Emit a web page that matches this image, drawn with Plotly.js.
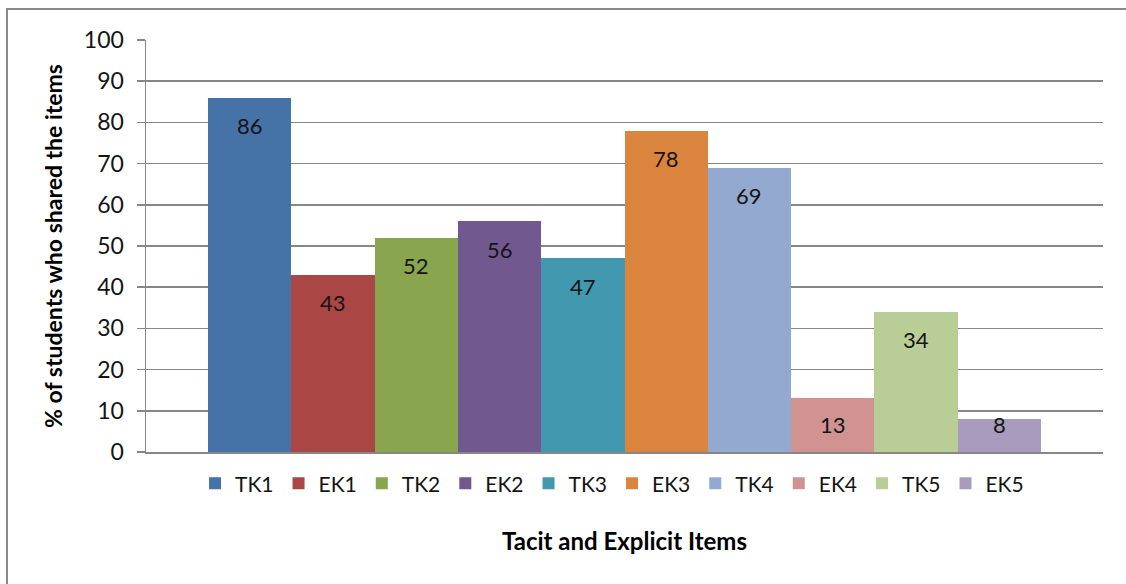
<!DOCTYPE html>
<html>
<head>
<meta charset="utf-8">
<script src="https://cdn.plot.ly/plotly-3.0.1.min.js"></script>
<style>
  html, body { margin: 0; padding: 0; background: #ffffff; }
  #wrap { position: relative; width: 1126px; height: 584px; overflow: hidden; }
  #chart { position: absolute; left: 0; top: 0; width: 1126px; height: 584px; }
  #frame { position: absolute; left: 6px; top: 8px; width: 1200px; height: 700px;
           border-left: 2px solid #898989; border-top: 2px solid #898989; pointer-events: none; }
</style>
</head>
<body>
<div id="wrap">
  <div id="chart"></div>
  <div id="frame"></div>
</div>
<script>
// Share of students who shared each tacit (TK) and explicit (EK) knowledge item
const items = ['TK1', 'EK1', 'TK2', 'EK2', 'TK3', 'EK3', 'TK4', 'EK4', 'TK5', 'EK5'];
const shares = [86, 43, 52, 56, 47, 78, 69, 13, 34, 8];
const colors = ['#4572A7', '#AA4643', '#89A54E', '#71588F', '#4198AF',
                '#DB843D', '#93A9CF', '#D19392', '#B9CD96', '#A99BBD'];
const yTicks = [0, 10, 20, 30, 40, 50, 60, 70, 80, 90, 100];

const FONT = 'Lato, "Open Sans", sans-serif';
const TEXT = '#141414';

const W = 1126, H = 584;
const margin = { l: 146, r: 23, t: 40, b: 132 };
const plotH = H - margin.t - margin.b;
const yMax = 100;
const pxPerUnit = plotH / yMax;

// one trace per item so each gets its own legend entry
const traces = items.map((name, i) => ({
  type: 'bar',
  name: name,
  x: [name],
  y: [shares[i]],
  marker: { color: colors[i], line: { width: 0 } },
  hoverinfo: 'x+y'
}));

// value labels sit inside the top of each bar
const labelOffset = 28;
const annotations = items.map((name, i) => {
  const barPx = shares[i] * pxPerUnit;
  const shift = Math.min(labelOffset, barPx - 28);
  return {
    x: name, y: shares[i], xref: 'x', yref: 'y',
    text: String(shares[i]), showarrow: false,
    yanchor: 'middle', xanchor: 'center', yshift: -shift,
    font: { family: FONT, size: 22, color: TEXT }
  };
});

const layout = {
  width: W, height: H,
  margin: margin,
  paper_bgcolor: '#ffffff', plot_bgcolor: '#ffffff',
  barmode: 'overlay', bargap: 0,
  showlegend: true,
  legend: {
    orientation: 'h', x: 0.487, xanchor: 'center', y: -0.077, yanchor: 'middle',
    font: { family: FONT, size: 21, color: TEXT },
    traceorder: 'normal', itemclick: false, itemdoubleclick: false
  },
  xaxis: {
    type: 'category',
    categoryorder: 'array', categoryarray: items,
    range: [-1.245, items.length - 1 + 1.245],
    showticklabels: false, ticks: '',
    showgrid: false, zeroline: false,
    showline: true, linecolor: '#878787', linewidth: 1.5,
    fixedrange: true,
    title: { text: '<b>Tacit and Explicit Items</b>', standoff: 80,
             font: { family: FONT, size: 24, color: '#000' } }
  },
  yaxis: {
    range: [0, yMax], tickvals: yTicks, ticktext: yTicks.map(String),
    ticks: 'outside', ticklen: 8, tickcolor: '#878787', tickwidth: 1.5,
    ticklabelstandoff: 8,
    tickfont: { family: FONT, size: 23, color: TEXT },
    showgrid: true, gridcolor: '#878787', gridwidth: 1.5,
    zeroline: false, showline: true, linecolor: '#878787', linewidth: 1.5,
    fixedrange: true,
    title: { text: '<b>% of students who shared the items</b>', standoff: 15,
             font: { family: FONT, size: 23, color: '#000' } }
  },
  annotations: annotations
};

Plotly.newPlot('chart', traces, layout, { displayModeBar: false, staticPlot: true });
</script>
</body>
</html>
